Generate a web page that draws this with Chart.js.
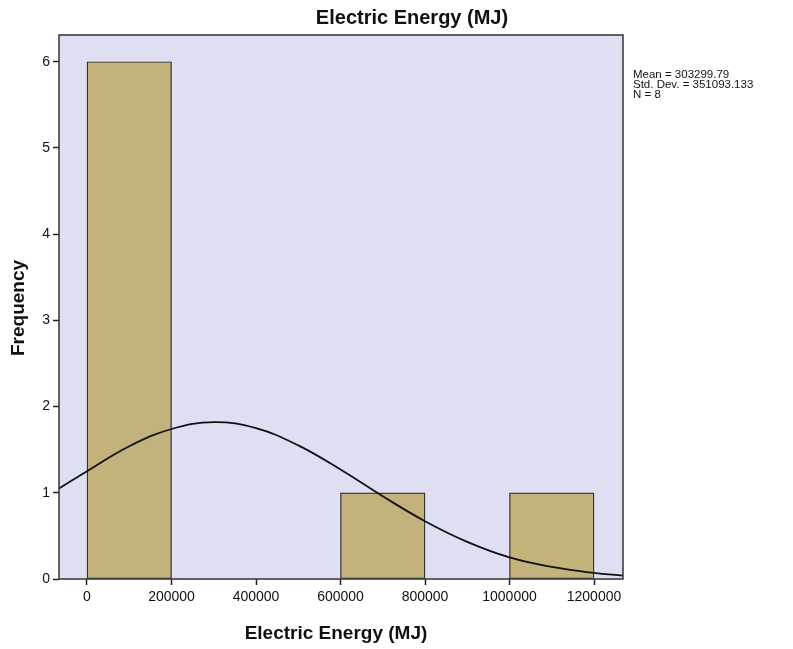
<!DOCTYPE html>
<html>
<head>
<meta charset="utf-8">
<script src="https://cdn.jsdelivr.net/npm/chart.js@4/dist/chart.umd.min.js"></script>
<style>
html,body{margin:0;padding:0;background:#fff;}
#wrap{width:793px;height:649px;position:relative;}
</style>
</head>
<body>
<div id="wrap"><canvas id="c" width="793" height="649"></canvas></div>
<script>
// Histogram bins (centers) and frequencies
const binCenters = [100000, 300000, 500000, 700000, 900000, 1100000];
const frequencies = [6, 0, 0, 1, 0, 1];
// Normal curve points
const curveX = [-66000, 0, 100000, 200000, 300000, 400000, 500000, 600000, 700000, 800000, 900000, 1000000, 1100000, 1200000, 1268000];
const curveY = [1.05, 1.25, 1.54, 1.74, 1.82, 1.75, 1.55, 1.27, 0.96, 0.67, 0.43, 0.25, 0.14, 0.07, 0.04];
const xTicks = [0, 200000, 400000, 600000, 800000, 1000000, 1200000];
const yTicks = [0, 1, 2, 3, 4, 5, 6];
const titleText = "Electric Energy (MJ)";
const xTitle = "Electric Energy (MJ)";
const yTitle = "Frequency";
const statsLines = ["Mean = 303299.79", "Std. Dev. = 351093.133", "N = 8"];

const bg = {
  id: 'bg',
  beforeDatasetsDraw(chart) {
    const {ctx, chartArea: a} = chart;
    ctx.save();
    ctx.fillStyle = '#dedff2';
    ctx.fillRect(a.left, a.top, a.right - a.left, a.bottom - a.top);
    ctx.restore();
  },
  afterDraw(chart) {
    const {ctx, chartArea: a} = chart;
    ctx.save();
    ctx.strokeStyle = '#333';
    ctx.lineWidth = 1.5;
    ctx.strokeRect(a.left, a.top, a.right - a.left, a.bottom - a.top);
    ctx.fillStyle = '#111';
    ctx.font = 'bold 20px "Liberation Sans", Arial, sans-serif';
    ctx.textAlign = 'center';
    ctx.textBaseline = 'middle';
    ctx.fillText(titleText, 412, 18);
    ctx.font = 'bold 19px "Liberation Sans", Arial, sans-serif';
    ctx.fillText(xTitle, 336, 634);
    ctx.save();
    ctx.translate(19, 308);
    ctx.rotate(-Math.PI / 2);
    ctx.fillText(yTitle, 0, 0);
    ctx.restore();
    ctx.font = '11.5px "Liberation Sans", Arial, sans-serif';
    ctx.textAlign = 'left';
    ctx.textBaseline = 'alphabetic';
    statsLines.forEach((s, i) => ctx.fillText(s, 633, 78 + i * 9.8));
    ctx.restore();
  }
};

new Chart(document.getElementById('c'), {
  data: {
    datasets: [
      {
        type: 'line',
        data: curveX.map((x, i) => ({x, y: curveY[i]})),
        borderColor: '#111',
        borderWidth: 1.8,
        pointRadius: 0,
        tension: 0.4,
        fill: false,
        order: 0
      },
      {
        type: 'bar',
        data: binCenters.map((x, i) => ({x, y: frequencies[i]})),
        backgroundColor: '#c4b27c',
        borderColor: '#222',
        borderWidth: 1.2,
        borderSkipped: false,
        barPercentage: 1,
        categoryPercentage: 1,
        order: 1
      }
    ]
  },
  options: {
    responsive: false,
    animation: false,
    events: [],
    layout: {padding: {left: 0, right: 170, top: 35, bottom: 0}},
    plugins: {legend: {display: false}, tooltip: {enabled: false}, title: {display: false}},
    scales: {
      x: {
        type: 'linear',
        offset: false,
        min: -66270,
        max: 1268600,
        afterBuildTicks(scale) { scale.ticks = xTicks.map(v => ({value: v})); },
        afterFit(scale) { scale.height = 70; },
        ticks: {
          includeBounds: false,
          color: '#111',
          font: {family: '"Liberation Sans", Arial, sans-serif', size: 14},
          padding: 4,
          maxRotation: 0,
          autoSkip: false,
          callback: v => String(v)
        },
        grid: {display: true, offset: false, drawOnChartArea: false, drawTicks: true, tickLength: 6, tickColor: '#222', tickWidth: 1.5},
        border: {display: false}
      },
      y: {
        type: 'linear',
        min: 0,
        max: 6.31,
        afterBuildTicks(scale) { scale.ticks = yTicks.map(v => ({value: v})); },
        afterFit(scale) { scale.width = 59; },
        ticks: {
          includeBounds: false,
          color: '#111',
          font: {family: '"Liberation Sans", Arial, sans-serif', size: 14},
          padding: 3
        },
        grid: {display: true, drawOnChartArea: false, drawTicks: true, tickLength: 6, tickColor: '#222', tickWidth: 1.5},
        border: {display: false}
      }
    }
  },
  plugins: [bg]
});
</script>
</body>
</html>
